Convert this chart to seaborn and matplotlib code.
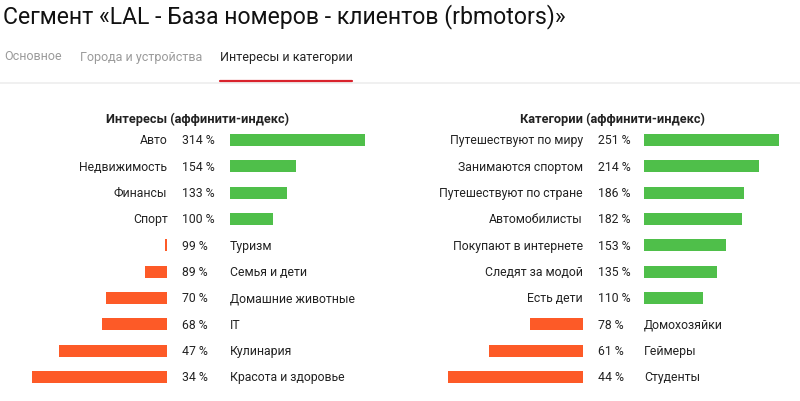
import matplotlib
matplotlib.use("Agg")
import matplotlib.pyplot as plt
import matplotlib.transforms as mtransforms
from matplotlib.lines import Line2D
import seaborn as sns
import pandas as pd

# ---- data ----
title = "Сегмент «LAL - База номеров - клиентов (rbmotors)»"
tabs = ["Основное", "Города и устройства", "Интересы и категории"]

interests_title = "Интересы (аффинити-индекс)"
interests = ["Авто", "Недвижимость", "Финансы", "Спорт", "Туризм",
             "Семья и дети", "Домашние животные", "IT", "Кулинария",
             "Красота и здоровье"]
interests_vals = [314, 154, 133, 100, 99, 89, 70, 68, 47, 34]

categories_title = "Категории (аффинити-индекс)"
categories = ["Путешествуют по миру", "Занимаются спортом",
              "Путешествуют по стране", "Автомобилисты",
              "Покупают в интернете", "Следят за модой", "Есть дети",
              "Домохозяйки", "Геймеры", "Студенты"]
categories_vals = [251, 214, 186, 182, 153, 135, 110, 78, 61, 44]

GREEN = "#4fbf4a"
ORANGE = "#fd5a27"
TEXT = "#222222"

sns.set_theme(style="white")
plt.rcParams["font.family"] = ["Roboto", "DejaVu Sans"]

W, H = 800, 401
fig = plt.figure(figsize=(W / 100, H / 100), dpi=100)
fig.patch.set_facecolor("white")


def fx(px):
    return px / W


def fy(py):
    return 1 - py / H


# header
fig.text(fx(3), fy(17), title, fontsize=16.6,
         color="#111111", va="center", ha="left")
tab_x = [4, 80, 220]
tab_colors = ["#9a9a9a", "#9a9a9a", "#222222"]
for t, x, c in zip(tabs, tab_x, tab_colors):
    fig.text(fx(x), fy(57), t, fontsize=9.0, color=c, va="center", ha="left")
fig.add_artist(Line2D([0, 1], [fy(82.5), fy(82.5)], color="#eeeeee", lw=1.2))
fig.add_artist(Line2D([fx(220), fx(352)], [fy(81), fy(81)], color="#d9232d", lw=1.6))

ROW0, ROWN, NROWS = 140, 377, 10
step = (ROWN - ROW0) / (NROWS - 1)
top_px = ROW0 - step / 2
bot_px = ROWN + step / 2
BAR_H = 12 / step
MAXLEN = 135
FS = 8.8


def panel(labels, vals, head, label_right, pct_left, green_left, orange_right, head_cx):
    df = pd.DataFrame({"label": labels, "value": vals})
    df["green"] = [v if v >= 100 else 0 for v in vals]
    df["orange"] = [100 - v if v < 100 else 0 for v in vals]
    gmax = max(df["green"])
    omax = max(df["orange"])

    rect_h = (bot_px - top_px) / H
    axg = fig.add_axes([fx(green_left), fy(bot_px), MAXLEN / W, rect_h])
    axo = fig.add_axes([fx(orange_right - MAXLEN), fy(bot_px), MAXLEN / W, rect_h])
    sns.barplot(data=df, y="label", x="green", order=labels, ax=axg,
                color=GREEN, saturation=1, width=BAR_H, linewidth=0, orient="h")
    sns.barplot(data=df, y="label", x="orange", order=labels, ax=axo,
                color=ORANGE, saturation=1, width=BAR_H, linewidth=0, orient="h")
    axg.set_xlim(0, gmax)
    axo.set_xlim(omax, 0)
    for ax in (axg, axo):
        ax.set_ylim(NROWS - 0.5, -0.5)
        ax.axis("off")
        ax.patch.set_alpha(0)

    tr = mtransforms.blended_transform_factory(fig.transFigure, axg.transData)
    for i, (lab, v) in enumerate(zip(labels, vals)):
        fig.text(fx(pct_left), i + 0.03, f"{v} %", transform=tr, fontsize=FS,
                 color=TEXT, va="center", ha="left")
        if v >= 100:
            fig.text(fx(label_right), i + 0.03, lab, transform=tr, fontsize=FS,
                     color=TEXT, va="center", ha="right")
        else:
            fig.text(fx(green_left), i + 0.03, lab, transform=tr, fontsize=FS,
                     color=TEXT, va="center", ha="left")
    fig.text(fx(head_cx), fy(119), head, fontsize=9.2, fontweight="bold",
             color=TEXT, va="center", ha="center")


panel(interests, interests_vals, interests_title, 167.5, 182.5, 230, 167, 198)
panel(categories, categories_vals, categories_title, 583, 598, 644, 583, 613)

fig.savefig("out.png", dpi=100, facecolor="white")
